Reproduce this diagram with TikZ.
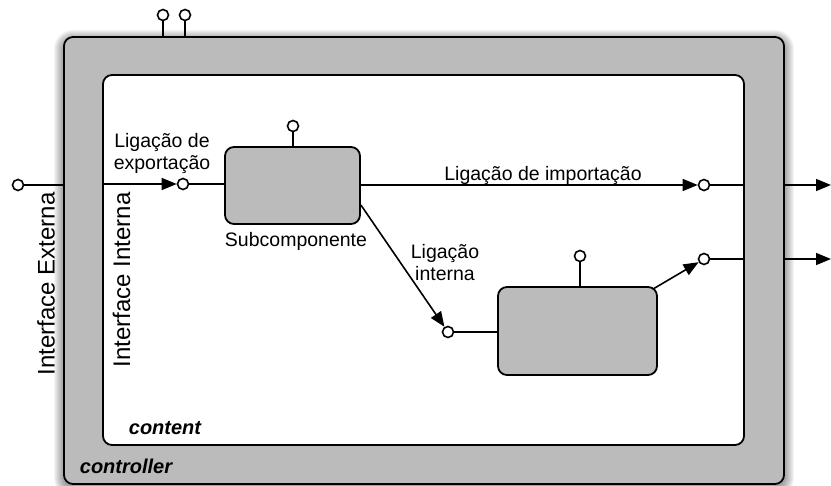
\documentclass[tikz,border=0pt]{standalone}
\usepackage{fontspec}
\setmainfont{Liberation Sans}
\usetikzlibrary{arrows.meta, calc}
\definecolor{boxgray}{HTML}{BBBBBB}

\begin{document}
\begin{tikzpicture}[x=1pt, y=-1pt,
            every path/.style={>={Triangle[length=15pt, width=12pt]}},
            frame/.style={draw, line width=1.8pt, rounded corners=9pt, inner sep=0pt},
            comp/.style={frame, fill=boxgray},
            port/.style={circle, draw, fill=white, line width=1.6pt, minimum size=11pt, inner sep=0pt},
            wire/.style={line width=1.6pt},
            lbl/.style={font=\fontsize{19.5}{22}\selectfont, align=center, inner sep=0pt},
            side/.style={font=\fontsize{24}{28}\selectfont, rotate=90, inner sep=0pt}]
        \useasboundingbox (0,0) rectangle (831,486);

        % soft shadow of the controller
        \foreach \d in {1,...,10}
            \fill[black, opacity=0.045, rounded corners=9+\d] (64-\d,40-\d) rectangle (784+\d,487+\d);

        \node[comp, minimum width=720pt, minimum height=447pt] (controller) at (424,260.5) {};
        \node[frame, fill=white, minimum width=641pt, minimum height=370pt] (content) at (423.5,260) {};

        \node[comp, minimum width=135pt, minimum height=77pt] (sub1) at (292.5,185.5) {};
        \node[comp, minimum width=159pt, minimum height=88pt] (sub2) at (577.5,331) {};

        % ports
        \node[port] (ext) at (18,185) {};
        \node[port] (ctlA) at (163,15) {};
        \node[port] (ctlB) at (185,15) {};
        \node[port] (exp) at (183,184) {};
        \node[port] (sub1top) at (293,126) {};
        \node[port] (imp) at (704,185) {};
        \node[port] (out) at (704,259) {};
        \node[port] (sub2top) at (580,256) {};
        \node[port] (int) at (448,332) {};
        \coordinate (outA) at (831,185);
        \coordinate (outB) at (831,259);

        % wires
        \draw[wire] (ext) -- (ext -| controller.west);
        \draw[wire] (ctlA) -- (ctlA |- controller.north);
        \draw[wire] (ctlB) -- (ctlB |- controller.north);
        \draw[wire, ->] (exp -| content.west) -- (exp);
        \draw[wire] (exp) -- (exp -| sub1.west);
        \draw[wire] (sub1top) -- (sub1top |- sub1.north);
        \draw[wire, ->] (imp -| sub1.east) -- (imp);
        \draw[wire] (imp) -- (imp -| content.east);
        \draw[wire, ->] (controller.east |- imp) -- (outA);
        \draw[wire, ->] ($(sub1.east)+(0,19.5)$) -- (int);
        \draw[wire] (int) -- (int -| sub2.west);
        \draw[wire] (sub2top) -- (sub2top |- sub2.north);
        \draw[wire, ->] ($(sub2.north east)+(-5,3)$) -- (out);
        \draw[wire] (out) -- (out -| content.east);
        \draw[wire, ->] (controller.east |- out) -- (outB);

        % labels
        \node[lbl] (lblexp) at (162,154) {Ligação de\\exportação};
        \node[lbl] (lblimp) at (543,176) {Ligação de importação};
        \node[lbl] (lblsub) at (296,241) {Subcomponente};
        \node[lbl] (lblint) at (445,263) {Ligação\\interna};
        \node[lbl, font=\fontsize{20}{22}\selectfont\bfseries\itshape] (lblcontent) at (165,428) {content};
        \node[lbl, font=\fontsize{20}{22}\selectfont\bfseries\itshape] (lblctl) at (126,466) {controller};
        \node[side] (lblext) at (46,284) {Interface Externa};
        \node[side] (lblintf) at (121.5,280) {Interface Interna};
\end{tikzpicture}
\end{document}
